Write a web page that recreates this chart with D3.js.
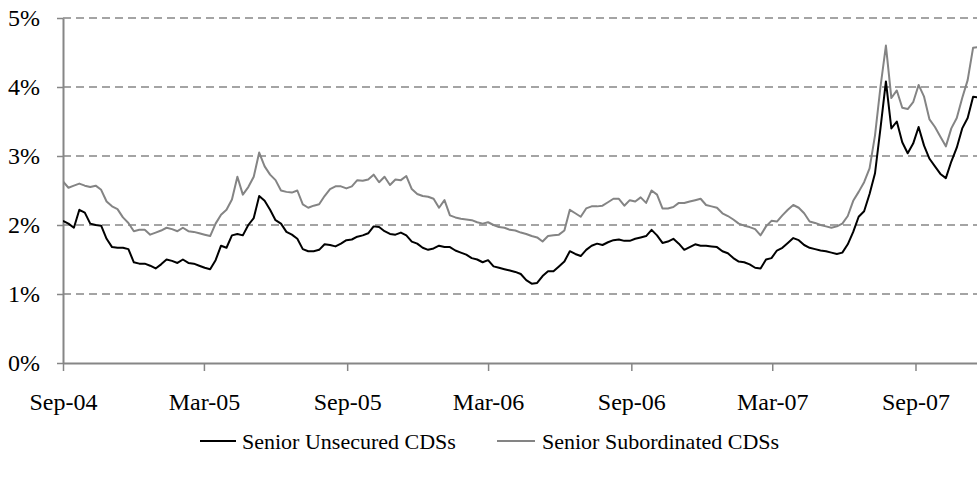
<!DOCTYPE html>
<html>
<head>
<meta charset="utf-8">
<script src="https://cdn.jsdelivr.net/npm/d3@7"></script>
<style>
  body { margin: 0; background: #fff; }
  text { font-family: "Liberation Serif", "Times New Roman", serif; fill: #000; }
</style>
</head>
<body>
<div id="chart"></div>
<script>
// Weekly readings, first week starts on this date
var startDate = "2004-09-01";
var axisEndDate = "2007-11-19";

// Senior Unsecured CDSs (%)
var unsecured = [
  2.06, 2.02, 1.96, 2.22, 2.18, 2.02, 2.00, 1.99, 1.80, 1.68,
  1.67, 1.67, 1.65, 1.46, 1.44, 1.44, 1.41, 1.37, 1.43, 1.50,
  1.48, 1.45, 1.50, 1.45, 1.44, 1.41, 1.38, 1.36, 1.49, 1.70,
  1.67, 1.85, 1.87, 1.85, 2.00, 2.10, 2.42, 2.35, 2.22, 2.07,
  2.02, 1.90, 1.86, 1.80, 1.65, 1.62, 1.62, 1.64, 1.72, 1.71,
  1.69, 1.73, 1.78, 1.79, 1.83, 1.85, 1.88, 1.98, 1.97, 1.91,
  1.87, 1.86, 1.89, 1.85, 1.76, 1.73, 1.67, 1.64, 1.66, 1.70,
  1.68, 1.68, 1.63, 1.60, 1.57, 1.52, 1.50, 1.46, 1.49, 1.40,
  1.38, 1.36, 1.34, 1.32, 1.29, 1.20, 1.15, 1.16, 1.26, 1.33,
  1.33, 1.40, 1.47, 1.62, 1.58, 1.55, 1.64, 1.70, 1.73, 1.71,
  1.75, 1.78, 1.79, 1.77, 1.77, 1.80, 1.82, 1.84, 1.93, 1.85,
  1.74, 1.76, 1.80, 1.73, 1.64, 1.68, 1.72, 1.70, 1.70, 1.69,
  1.68, 1.62, 1.59, 1.52, 1.47, 1.46, 1.43, 1.38, 1.37, 1.50,
  1.52, 1.63, 1.67, 1.74, 1.81, 1.78, 1.71, 1.67, 1.65, 1.63,
  1.62, 1.60, 1.58, 1.60, 1.72, 1.90, 2.12, 2.20, 2.45, 2.75,
  3.40, 4.08, 3.40, 3.50, 3.20, 3.04, 3.18, 3.42, 3.15, 2.96,
  2.85, 2.74, 2.68, 2.92, 3.12, 3.40, 3.55, 3.86, 3.85
];

// Senior Subordinated CDSs (%)
var subordinated = [
  2.63, 2.54, 2.57, 2.60, 2.57, 2.55, 2.57, 2.51, 2.34, 2.27,
  2.23, 2.11, 2.03, 1.91, 1.93, 1.93, 1.86, 1.89, 1.92, 1.96,
  1.94, 1.91, 1.96, 1.91, 1.90, 1.88, 1.86, 1.84, 2.02, 2.15,
  2.22, 2.37, 2.70, 2.44, 2.55, 2.70, 3.05, 2.85, 2.73, 2.65,
  2.50, 2.48, 2.47, 2.50, 2.30, 2.25, 2.28, 2.30, 2.42, 2.52,
  2.56, 2.56, 2.53, 2.56, 2.65, 2.64, 2.66, 2.73, 2.62, 2.70,
  2.58, 2.66, 2.65, 2.71, 2.52, 2.45, 2.42, 2.41, 2.38, 2.25,
  2.36, 2.14, 2.11, 2.09, 2.08, 2.07, 2.04, 2.02, 2.04, 2.00,
  1.97, 1.96, 1.93, 1.92, 1.89, 1.87, 1.84, 1.82, 1.76, 1.84,
  1.85, 1.86, 1.92, 2.22, 2.17, 2.12, 2.24, 2.27, 2.27, 2.28,
  2.33, 2.38, 2.38, 2.28, 2.36, 2.34, 2.40, 2.32, 2.50, 2.44,
  2.24, 2.24, 2.26, 2.32, 2.32, 2.34, 2.36, 2.38, 2.29, 2.27,
  2.25, 2.17, 2.13, 2.08, 2.02, 1.99, 1.97, 1.94, 1.85, 1.98,
  2.06, 2.05, 2.14, 2.22, 2.29, 2.25, 2.17, 2.05, 2.03, 2.00,
  1.98, 1.96, 1.98, 2.02, 2.13, 2.35, 2.48, 2.62, 2.82, 3.30,
  4.00, 4.60, 3.84, 3.95, 3.70, 3.68, 3.78, 4.03, 3.86, 3.53,
  3.42, 3.28, 3.14, 3.40, 3.55, 3.84, 4.10, 4.57, 4.58
];

var tickDates = ["2004-09-01", "2005-03-01", "2005-09-01", "2006-03-01",
                 "2006-09-01", "2007-03-01", "2007-09-01"];
var yTicks = [0, 1, 2, 3, 4, 5];
var seriesNames = ["Senior Unsecured CDSs", "Senior Subordinated CDSs"];
var seriesColors = ["#000000", "#848484"];

var width = 977, height = 478;
var margin = { left: 63, right: 0, top: 18, bottom: 115 };
var axisColor = "#868686";

var parse = d3.utcParse("%Y-%m-%d");
var start = parse(startDate);

var svg = d3.select("#chart").append("svg")
    .attr("width", width)
    .attr("height", height);

var x = d3.scaleUtc()
    .domain([start, parse(axisEndDate)])
    .range([margin.left, width - margin.right]);

var y = d3.scaleLinear()
    .domain([0, 5])
    .range([height - margin.bottom, margin.top]);

// dashed gridlines
svg.append("g")
    .selectAll("line")
    .data(yTicks.filter(d => d > 0))
    .enter().append("line")
    .attr("x1", margin.left)
    .attr("x2", width - margin.right)
    .attr("y1", d => y(d))
    .attr("y2", d => y(d))
    .attr("stroke", axisColor)
    .attr("stroke-width", 1.5)
    .attr("stroke-dasharray", "8,5");

// y axis
var yAxis = svg.append("g")
    .attr("transform", "translate(" + margin.left + ",0)")
    .call(d3.axisLeft(y)
        .tickValues(yTicks)
        .tickSize(6)
        .tickSizeOuter(0)
        .tickPadding(17)
        .tickFormat(d => d + "%"));

// x axis
var xAxis = svg.append("g")
    .attr("transform", "translate(0," + y(0) + ")")
    .call(d3.axisBottom(x)
        .tickValues(tickDates.map(parse))
        .tickSize(8)
        .tickSizeOuter(0)
        .tickPadding(22)
        .tickFormat(d3.utcFormat("%b-%y")));

[yAxis, xAxis].forEach(function(g) {
    g.select(".domain").attr("stroke", axisColor).attr("stroke-width", 2);
    g.selectAll(".tick line").attr("stroke", axisColor).attr("stroke-width", 1.5);
    g.selectAll(".tick text")
        .attr("font-family", "'Liberation Serif', 'Times New Roman', serif")
        .attr("font-size", "24px")
        .attr("fill", "#000");
});

// lines
svg.append("clipPath")
    .attr("id", "plot-clip")
    .append("rect")
    .attr("x", margin.left)
    .attr("y", 0)
    .attr("width", width - margin.left - margin.right)
    .attr("height", height);

var line = d3.line()
    .x((d, i) => x(d3.utcDay.offset(start, i * 7)))
    .y(d => y(d));

var series = [unsecured, subordinated];

// draw gray first so black sits on top
svg.append("g")
    .attr("clip-path", "url(#plot-clip)")
    .selectAll("path")
    .data([1, 0])
    .enter().append("path")
    .attr("d", k => line(series[k]))
    .attr("fill", "none")
    .attr("stroke", k => seriesColors[k])
    .attr("stroke-width", 2)
    .attr("stroke-linejoin", "round");

// legend
var legendY = 441;
var legendItems = [
    { x1: 200, x2: 236, tx: 242 },
    { x1: 497, x2: 535, tx: 542 }
];

var legend = svg.append("g");
legendItems.forEach(function(item, k) {
    legend.append("line")
        .attr("x1", item.x1)
        .attr("x2", item.x2)
        .attr("y1", legendY)
        .attr("y2", legendY)
        .attr("stroke", seriesColors[k])
        .attr("stroke-width", 2);
    legend.append("text")
        .attr("x", item.tx)
        .attr("y", legendY)
        .attr("dy", "0.35em")
        .attr("font-size", "22px")
        .text(seriesNames[k]);
});
</script>
</body>
</html>
